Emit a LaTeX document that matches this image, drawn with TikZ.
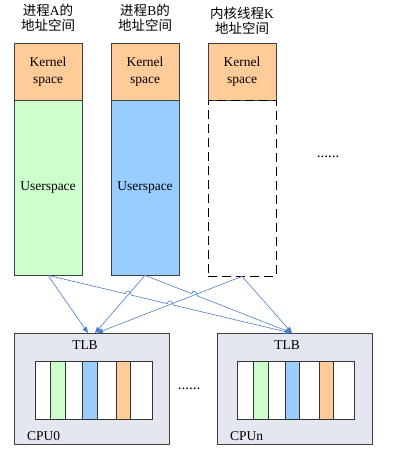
\documentclass[tikz,border=0pt]{standalone}
\usepackage{fontspec}
\setmainfont{Liberation Serif}
\newfontfamily\cjk{Noto Sans CJK SC}
\usetikzlibrary{arrows.meta,calc}
\definecolor{kern}{HTML}{FFCC99}
\definecolor{ugreen}{HTML}{CCFFCC}
\definecolor{ublue}{HTML}{99CCFF}
\definecolor{cpufill}{HTML}{E4E7F0}
\definecolor{arrowc}{HTML}{4A7EC8}
\definecolor{edge}{HTML}{404040}
\tikzset{
  box/.style={draw=edge, line width=0.7pt, inner sep=0pt, minimum width=68pt},
  lbl/.style={font=\fontsize{13.5}{17}\selectfont, align=center, inner sep=0pt},
  ttl/.style={font=\fontsize{13.5}{15.5}\selectfont, align=center, inner sep=0pt},
  dotsty/.style={font=\fontsize{15}{17}\selectfont, inner sep=0pt},
  cpubox/.style={draw=edge, line width=0.7pt, fill=cpufill, inner sep=0pt, minimum width=155pt, minimum height=111pt},
  tlbbox/.style={draw=black!80, line width=0.7pt, fill=white, inner sep=0pt, minimum width=117pt, minimum height=58pt},
  stripe/.style={draw=black!80, line width=0.7pt, inner sep=0pt, minimum width=15pt, minimum height=58pt},
  conn/.style={draw=arrowc, line width=0.6pt, -{Triangle[length=6pt,width=5pt]}},
}
\begin{document}
\begin{tikzpicture}[x=1pt,y=-1pt]
\useasboundingbox (0,0) rectangle (400,452);
% titles
\node[ttl] (tA) at (48,18) {{\cjk 进程}A{\cjk 的}\\{\cjk 地址空间}};
\node[ttl] (tB) at (145,18) {{\cjk 进程}B{\cjk 的}\\{\cjk 地址空间}};
\node[ttl] (tK) at (242,21) {{\cjk 内核线程}K\\{\cjk 地址空间}};
% columns
\node[box, fill=kern, minimum height=57pt] (kA) at (48,71.5) {};
\node[lbl] at (kA) {Kernel\\space};
\node[box, fill=ugreen, minimum height=175pt] (uA) at (48,187.5) {};
\node[lbl] at (uA) {Userspace};
\node[box, fill=kern, minimum height=57pt] (kB) at (145,71.5) {};
\node[lbl] at (kB) {Kernel\\space};
\node[box, fill=ublue, minimum height=175pt] (uB) at (145,187.5) {};
\node[lbl] at (uB) {Userspace};
\node[box, fill=kern, minimum height=57pt] (kK) at (242,71.5) {};
\node[lbl] at (kK) {Kernel\\space};
\node[box, draw=black, dash pattern=on 9pt off 5pt, minimum height=176pt] (uK) at (242,188) {};
\node[dotsty] (dots1) at (328,157) {......};
% CPU boxes
\node[cpubox] (cpu0) at (91.5,388.5) {};
\node[cpubox] (cpun) at (294.5,388.5) {};
\node[lbl] (tlb0) at (85,345) {TLB};
\node[lbl] (tlbn) at (287,345) {TLB};
\node[lbl, anchor=west] (c0) at (27,436) {CPU0};
\node[lbl, anchor=west] (cn) at (230,436) {CPUn};
\node[dotsty] (dots2) at (189,389) {......};
% TLB tables
\node[tlbbox] (tb0) at (93.5,390) {};
\node[stripe, fill=ugreen] (g0) at (57.5,390) {};
\node[stripe, fill=ublue] (b0) at (89.5,390) {};
\node[stripe, fill=kern, minimum width=14pt] (o0) at (123,390) {};
\node[tlbbox] (tbn) at (295.5,390) {};
\node[stripe, fill=ugreen] (gn) at (260.5,390) {};
\node[stripe, fill=ublue, minimum width=14pt] (bn) at (292,390) {};
\node[stripe, fill=kern, minimum width=14pt] (on) at (326,390) {};
% arrow targets
\coordinate (a0) at (88,333);
\coordinate (b0t) at (95,333);
\coordinate (k0) at (97,333);
\coordinate (an) at (291,333);
\coordinate (bnt) at (292,333);
\coordinate (knt) at (292,333);
% connectors
\draw[conn] (uA.south) -- (a0);
\draw[conn] (uA.south)
  -- ($(uA.south)!0.319!(an)$) .. controls +(0,-4.5) and +(0,-4.5) .. ($(uA.south)!0.343!(an)$)
  -- ($(uA.south)!0.491!(an)$) .. controls +(0,-4.5) and +(0,-4.5) .. ($(uA.south)!0.515!(an)$)
  -- (an);
\draw[conn] (uB.south) -- (b0t);
\draw[conn] (uB.south)
  -- ($(uB.south)!0.319!(bnt)$) .. controls +(0,-4.5) and +(0,-4.5) .. ($(uB.south)!0.357!(bnt)$)
  -- (bnt);
\draw[conn] (uK.south) -- (k0);
\draw[conn] (uK.south) -- (knt);
\end{tikzpicture}
\end{document}
